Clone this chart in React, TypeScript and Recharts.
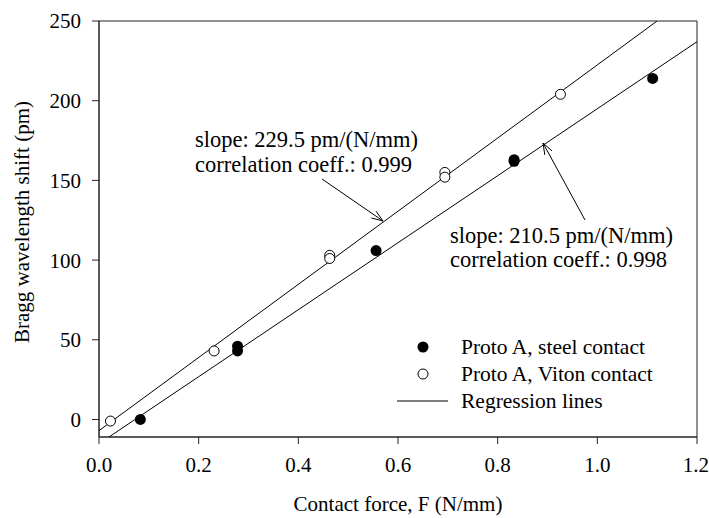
import React from 'react'
import { ComposedChart, Scatter, XAxis, YAxis, ReferenceArea } from 'recharts'

const FONT = "'Liberation Serif', 'Times New Roman', serif"

// steel contact (filled circles)
const steelX = [0.083, 0.278, 0.278, 0.556, 0.833, 0.833, 1.111]
const steelY = [0, 46, 43, 106, 163, 162, 214]
// Viton contact (open circles)
const vitonX = [0.023, 0.231, 0.463, 0.463, 0.694, 0.694, 0.926]
const vitonY = [-1, 43, 103, 101, 155, 152, 204]

// regression line end points
const vitonFit = [{ x: 0, y: -7 }, { x: 1.12, y: 250 }]
const steelFit = [{ x: 0.02, y: -11 }, { x: 1.2, y: 237 }]

const xTicks = [0, 0.2, 0.4, 0.6, 0.8, 1.0, 1.2]
const yTicks = [0, 50, 100, 150, 200, 250]

const steel = steelX.map((x, i) => ({ x, y: steelY[i] }))
const viton = vitonX.map((x, i) => ({ x, y: vitonY[i] }))

const Filled = (p: any) => <circle cx={p.cx} cy={p.cy} r={5.5} fill="#000" />
const Open = (p: any) => <circle cx={p.cx} cy={p.cy} r={5} fill="#fff" stroke="#000" strokeWidth={1} />
const NoDot = () => <g />

function Arrow({ x1, y1, x2, y2 }: { x1: number; y1: number; x2: number; y2: number }) {
  const a = Math.atan2(y2 - y1, x2 - x1)
  const len = 12
  const spread = 0.35
  const p1 = [x2 - len * Math.cos(a - spread), y2 - len * Math.sin(a - spread)]
  const p2 = [x2 - len * Math.cos(a + spread), y2 - len * Math.sin(a + spread)]
  return (
    <g stroke="#000" strokeWidth={1} fill="none">
      <line x1={x1} y1={y1} x2={x2} y2={y2} />
      <polyline points={`${p1[0]},${p1[1]} ${x2},${y2} ${p2[0]},${p2[1]}`} />
    </g>
  )
}

export default function App() {
  const txt = { fontFamily: FONT, fontSize: 21, fill: '#000' }
  const note = { ...txt, fontSize: 22.5 }
  const leg = { ...txt, fontSize: 21.5 }
  return (
    <div style={{ position: 'absolute', left: 0, top: 0, width: 709, height: 518, background: '#fff' }}>
      <ComposedChart width={709} height={518} margin={{ top: 21, right: 12, bottom: 41, left: 39 }}>
        <XAxis
          type="number"
          dataKey="x"
          domain={[0, 1.2]}
          ticks={xTicks}
          tickFormatter={(v: number) => v.toFixed(1)}
          allowDataOverflow
          height={40}
          tickSize={7}
          tickMargin={13}
          stroke="#222"
          tick={{ fill: '#000', fontSize: 21, fontFamily: FONT }}
        />
        <YAxis
          type="number"
          dataKey="y"
          domain={[-11, 250]}
          ticks={yTicks}
          allowDataOverflow
          width={60}
          tickSize={7}
          tickMargin={11}
          stroke="#222"
          tick={{ fill: '#000', fontSize: 21, fontFamily: FONT }}
        />
        <ReferenceArea x1={0} x2={1.2} y1={-11} y2={250} fill="none" stroke="#222" strokeWidth={1} />
        <Scatter data={vitonFit} line={{ stroke: '#000', strokeWidth: 1 }} shape={NoDot} isAnimationActive={false} />
        <Scatter data={steelFit} line={{ stroke: '#000', strokeWidth: 1 }} shape={NoDot} isAnimationActive={false} />
        <Scatter data={steel} shape={Filled} isAnimationActive={false} />
        <Scatter data={viton} shape={Open} isAnimationActive={false} />
      </ComposedChart>
      <svg width={709} height={518} style={{ position: 'absolute', left: 0, top: 0, pointerEvents: 'none' }}>
        <text {...note} x={195} y={147}>slope: 229.5 pm/(N/mm)</text>
        <text {...note} x={195} y={172}>correlation coeff.: 0.999</text>
        <Arrow x1={322} y1={179} x2={383} y2={221} />
        <text {...note} x={450} y={243}>slope: 210.5 pm/(N/mm)</text>
        <text {...note} x={450} y={267}>correlation coeff.: 0.998</text>
        <Arrow x1={585} y1={220} x2={543} y2={143} />

        <circle cx={423} cy={347} r={5.5} fill="#000" />
        <text {...leg} x={461} y={354}>Proto A, steel contact</text>
        <circle cx={423} cy={374} r={5} fill="#fff" stroke="#000" />
        <text {...leg} x={461} y={381}>Proto A, Viton contact</text>
        <line x1={397} y1={401} x2={448} y2={401} stroke="#000" />
        <text {...leg} x={461} y={408}>Regression lines</text>

        <text {...txt} x={398} y={511} textAnchor="middle">Contact force, F (N/mm)</text>
        <text {...txt} x={0} y={0} textAnchor="middle" transform="translate(29,222) rotate(-90)">
          Bragg wavelength shift (pm)
        </text>
      </svg>
    </div>
  )
}
